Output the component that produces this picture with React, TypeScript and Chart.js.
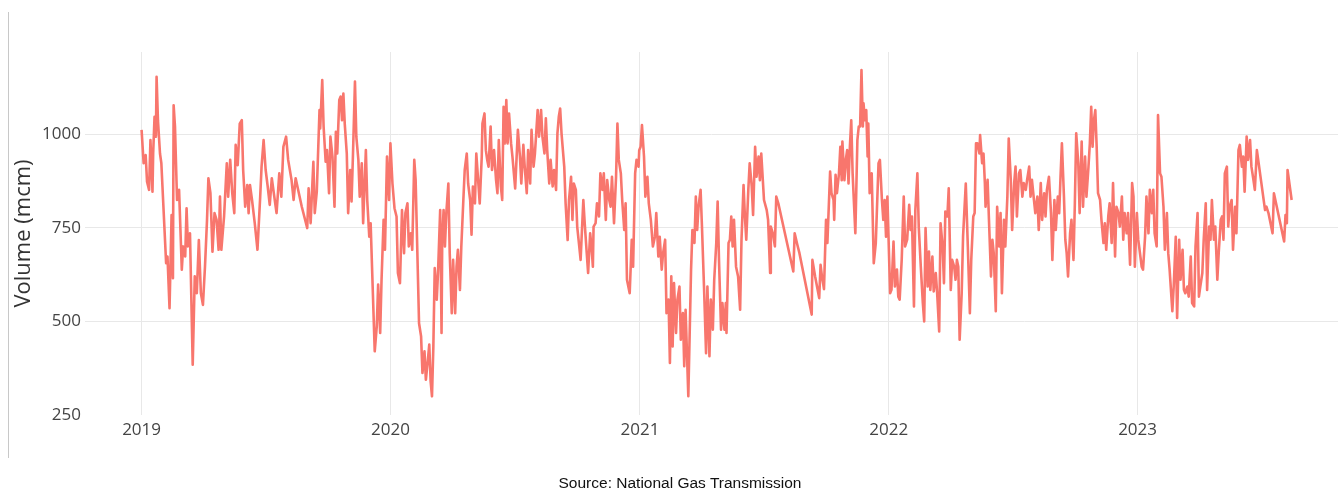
import React, { useEffect, useRef } from "react";
import { Chart, registerables } from "chart.js";

Chart.register(...registerables);

// Days since 2019-01-01
const days: number[] = [
  0, 3, 6, 8, 11, 13, 16, 17, 19, 21, 22, 24, 27, 29, 36, 38, 41, 44, 46, 47, 49, 52, 55, 59, 61, 64, 66, 68, 71, 75,
  78, 81, 84, 87, 90, 93, 96, 98, 101, 104, 107, 110, 113, 115, 117, 121, 125, 127, 130, 133, 136, 138, 141, 144, 147,
  149, 152, 155, 157, 159, 162, 166, 170, 174, 176, 179, 182, 185, 188, 191, 194, 198, 202, 205, 208, 212, 215,
  220, 223, 226, 235, 243, 245, 248, 250, 252, 254, 257, 261, 262, 265, 267, 270, 272, 275, 277, 280, 283, 285, 287,
  290, 292, 294, 296, 298, 301, 303, 306, 308, 310, 313, 315, 318, 320, 323, 325, 329, 331, 334, 336, 342, 345, 347,
  350, 352, 355, 357, 360, 363, 365, 368, 371, 374, 376, 379, 382, 385, 387, 390, 392, 395, 397, 400, 402, 407, 410,
  412, 415, 417, 420, 422, 424, 426, 428, 430, 433, 435, 438, 440, 441, 443, 445, 447, 450, 452, 455, 457, 460, 462, 464,
  467, 469, 472, 474, 477, 479, 482, 484, 486, 489, 491, 494, 496, 499, 500, 503, 505, 507, 509, 512, 514, 517, 520,
  522, 524, 527, 529, 531, 533, 535, 537, 539, 542, 544, 548, 552, 555, 557, 560, 562, 565, 567, 570, 572, 575, 577,
  581, 583, 586, 588, 591, 593, 595, 598, 600, 603, 605, 608, 610, 612, 614, 616, 620, 622, 625, 627, 630, 632, 634,
  637, 639, 642, 644, 648, 650, 653, 655, 658, 660, 662, 663, 666, 668, 671, 673, 676, 678, 681, 683, 686, 688, 690,
  693, 696, 698, 700, 703, 705, 708, 710, 712,
  716, 719, 721, 724, 726, 729, 730, 732, 734, 737, 739, 742, 744, 747, 750, 753, 755, 758, 760, 763, 765, 768, 770,
  773, 775, 777, 779, 781, 784, 786, 789, 791, 794, 796, 798, 802, 806, 808, 811, 813, 815, 817, 820, 822, 825, 828,
  830, 833, 835, 838, 840, 843, 845, 847, 850, 852, 855, 857, 858, 861, 863, 865, 867, 869, 872, 875, 878, 880, 883,
  885, 887, 890, 892, 895, 897, 900, 902, 905, 907, 909, 911, 913, 917, 919, 922, 923, 926, 929, 931, 934, 956, 958,
  962, 965,
  983, 984, 988, 994, 996, 998, 1001, 1004, 1006, 1010, 1012, 1015, 1016, 1018, 1020, 1023, 1025, 1027, 1028, 1031,
  1033, 1035, 1037, 1039, 1041, 1043, 1047, 1050, 1052, 1054, 1056, 1058, 1059, 1061, 1063, 1065, 1066, 1068, 1071,
  1074, 1077, 1081, 1083, 1086, 1088, 1090, 1092, 1094, 1098, 1100, 1103, 1105, 1108, 1110, 1112, 1115, 1118, 1120,
  1123, 1126, 1128, 1130, 1133, 1135, 1138, 1140, 1143, 1146, 1148, 1150, 1153, 1155, 1157, 1160, 1162, 1165, 1167,
  1170, 1172, 1175, 1177, 1179, 1182, 1184, 1187, 1189, 1192, 1194, 1196, 1198, 1200, 1203, 1205, 1209, 1212,
  1215, 1217, 1220, 1222, 1224, 1226, 1229, 1230, 1233, 1235, 1237, 1238, 1241, 1243, 1246, 1248, 1250, 1253, 1255,
  1258, 1260, 1262, 1265, 1267, 1270, 1272, 1275, 1277, 1280, 1282, 1284, 1287, 1289, 1292, 1294, 1297, 1299, 1302,
  1304, 1306, 1309, 1311, 1314, 1316, 1319, 1321, 1324, 1326, 1328, 1331, 1334, 1336, 1339, 1341, 1344, 1346, 1348,
  1350, 1353, 1355, 1357, 1359, 1362, 1364, 1367, 1369, 1371, 1374, 1376, 1379, 1381, 1384, 1386, 1389, 1391, 1393,
  1395, 1397, 1399, 1401, 1403, 1406, 1408, 1411, 1413, 1415, 1418, 1420, 1423, 1425, 1428, 1430, 1433, 1435, 1438,
  1440, 1442, 1445, 1447, 1450, 1453, 1455, 1457, 1460, 1462,
  1467, 1469, 1472, 1474, 1477, 1479, 1482, 1484, 1486, 1489, 1491, 1494, 1496, 1499, 1501, 1504, 1506, 1508, 1512,
  1514, 1517, 1519, 1522, 1524, 1527, 1529, 1531, 1534, 1536, 1539, 1541, 1544, 1546, 1549, 1551, 1553, 1556, 1558,
  1561, 1563, 1566, 1568, 1570, 1573, 1575, 1578, 1580, 1583, 1585, 1587, 1589, 1592, 1594, 1596, 1599, 1601, 1604,
  1606, 1609, 1611, 1614, 1616, 1618, 1621, 1623, 1626, 1628, 1631, 1633, 1636, 1648, 1650, 1653, 1659, 1661, 1676,
  1678, 1680, 1681, 1687,
];

// Volume (mcm)
const volume: number[] = [
  1011, 922, 944, 873, 851, 984, 846, 948, 1046, 993, 1153, 1037, 948, 922, 655, 673, 535, 784, 615, 1077, 1020, 824,
  851, 638, 700, 673, 802, 700, 735, 384, 620, 575, 717, 575, 544, 646, 771, 882, 842, 686, 789, 771, 691, 833, 691,
  780, 922, 833, 931, 842, 789, 971, 917, 1028, 1037, 904, 806, 864, 789, 864, 824, 762, 691, 833, 913, 984, 904, 860,
  811, 882, 842, 789, 895, 833, 966, 993, 931,
  877, 824, 882, 806, 749, 855, 762, 846, 926, 789, 846, 1064, 1015, 1144, 1020, 926, 957, 842, 993, 940, 806, 1006,
  948, 1091, 1100, 1037, 1108, 1028, 948, 789, 904, 820, 940, 1140, 993, 931, 833, 922, 762, 957, 824, 726, 762, 420,
  487, 598, 469, 611, 771, 691, 940, 824, 975, 868, 802, 780, 629, 602, 797, 682, 789, 815, 700, 735, 691, 931, 877,
  495, 460, 362, 420, 344, 398, 438, 340, 300, 433, 642, 558, 638, 797, 469, 718, 797, 700, 789, 868, 682, 522, 664,
  522, 646, 691,
  584, 700, 824, 904, 948, 868, 824, 731, 860, 815, 948, 868, 815, 940, 1028, 1055, 957, 931, 913, 1020, 904, 957, 877,
  842, 984, 860, 824, 1073, 975, 1091, 975, 1055, 975, 940, 855, 1011, 940, 868, 971, 913, 842, 957, 868, 1011, 913,
  948, 1064, 993, 1064, 993, 948, 1042, 957, 868, 931, 860, 904, 851, 1002, 1046, 1068, 1002, 913, 815, 717, 824, 886,
  771, 868, 851, 753, 700, 664, 824, 762, 682, 629, 735, 700, 646, 753, 762, 815, 780, 895, 851, 895, 771, 877, 824,
  806, 886, 762, 886, 1028, 931, 895, 824, 744, 815, 611,
  575, 718, 646, 895, 931, 913, 957, 966, 1024, 940, 833, 886, 815, 771, 700, 726, 789, 673, 726, 638, 682, 718, 522,
  558, 389, 620, 433, 602, 469, 558, 593, 451, 522, 380, 531, 300, 637, 744, 709, 833, 744, 806, 851, 753, 593, 415,
  593, 407, 558, 478, 611, 709, 820, 664, 478, 549, 478, 549, 469, 709, 718, 780, 700, 771, 646, 620, 531, 718, 864,
  780, 718, 851, 922, 860, 784, 966, 886, 940, 877, 948, 886, 824, 797, 771, 629, 753, 735, 700, 833, 815, 633, 735,
  704, 682,
  518, 664, 620, 562, 651, 620, 586, 771, 709, 900, 842, 824, 771, 891, 842, 895, 966, 877, 980, 877, 931, 957, 868,
  966, 1037, 895, 735, 984, 1020, 1020, 1171, 1020, 1082, 1037, 1064, 940, 1028, 842, 895, 655, 709, 922, 931, 824,
  771, 824, 726, 833, 575, 584, 713, 593, 638, 566, 558, 664, 833, 700, 718, 811, 744, 780, 540, 797, 895, 753, 646,
  549, 500, 749, 593, 686, 584, 673, 580, 629, 575, 473, 762, 700, 602, 793, 780, 855, 584, 664, 646, 611, 664, 646,
  451, 575, 726, 868, 700,
  522, 664, 780, 789, 975, 975, 948, 997, 922, 948, 869, 806, 878, 771, 620, 718, 682, 527, 806, 700, 789, 575, 771,
  700, 833, 988, 878, 744, 869, 913, 780, 895, 904, 833, 869, 851, 878, 913, 833, 878, 824, 789, 833, 744, 869, 771,
  842, 780, 851, 886, 789, 664, 824, 744, 833, 789, 886, 975, 833, 718, 682, 620, 735, 771, 664, 815, 1002, 922, 789,
  980, 806, 940, 833, 913, 975, 1073, 966, 1037, 1064, 966, 842, 824, 771, 709, 762, 691, 780, 815, 709, 869, 673, 806,
  789, 753, 833, 718, 789, 735, 789, 651, 869, 833, 646, 789, 718,
  646, 638, 726, 833, 735, 851, 789, 851, 735, 700, 1051, 895, 886, 806, 691, 789, 682, 638, 527, 593, 726, 509, 718,
  611, 691, 584, 575, 593, 566, 673, 549, 540, 700, 789, 566, 593, 629, 718, 815, 584, 753, 718, 824, 718, 753, 611,
  682, 771, 780, 718, 895, 913, 753, 806, 824, 691, 806, 735, 957, 971, 913, 940, 846, 993, 931, 984, 913, 877, 851,
  957, 797, 806, 789, 735, 842, 713, 784, 762, 904, 824,
];

const yearStarts: number[] = [0, 365, 731, 1096, 1461];
const yearLabels: string[] = ["2019", "2020", "2021", "2022", "2023"];
const yTicks: number[] = [250, 500, 750, 1000];

export default function App() {
  const canvasRef = useRef<HTMLCanvasElement | null>(null);

  useEffect(() => {
    if (!canvasRef.current) return;
    const chart = new Chart(canvasRef.current, {
      type: "line",
      data: {
        datasets: [
          {
            data: days.map((d, i) => ({ x: d, y: volume[i] })),
            borderColor: "#F8766D",
            borderWidth: 2.6,
            pointRadius: 0,
            tension: 0,
            borderJoinStyle: "round",
            fill: false,
          },
        ],
      },
      options: {
        animation: false,
        responsive: false,
        layout: { padding: { top: 52, left: 0, right: 0, bottom: 46 } },
        plugins: { legend: { display: false }, tooltip: { enabled: false } },
        scales: {
          x: {
            type: "linear",
            min: -83,
            max: 1755,
            afterBuildTicks: (scale: any) => {
              scale.ticks = yearStarts.map((v) => ({ value: v }));
            },
            afterFit: (scale: any) => {
              scale.height = 30;
            },
            grid: { color: "#e8e8e8", lineWidth: 1, drawTicks: false },
            border: { display: false },
            ticks: {
              autoSkip: false,
              maxRotation: 0,
              padding: 5,
              color: "#444",
              font: { family: "'Open Sans'", size: 17 },
              callback: (_v: any, i: number) => yearLabels[i],
            },
          },
          y: {
            type: "linear",
            min: 250,
            max: 1219,
            afterBuildTicks: (scale: any) => {
              scale.ticks = yTicks.map((v) => ({ value: v }));
            },
            afterFit: (scale: any) => {
              scale.width = 85;
            },
            grid: {
              color: (ctx: any) => (ctx.tick && ctx.tick.value === 250 ? "rgba(0,0,0,0)" : "#e8e8e8"),
              lineWidth: 1,
              drawTicks: false,
            },
            border: { display: false },
            title: {
              display: true,
              text: "Volume (mcm)",
              color: "#333",
              font: { family: "'Open Sans'", size: 22 },
              padding: { top: 11, bottom: 0 },
            },
            ticks: {
              padding: 4,
              color: "#444",
              font: { family: "'Open Sans'", size: 17 },
              callback: (v: any) => String(v),
            },
          },
        },
      },
    });
    return () => chart.destroy();
  }, []);

  return (
    <div style={{ position: "fixed", left: 0, top: 0, width: 1338, height: 491, background: "#fff", overflow: "hidden" }}>
      <div style={{ position: "absolute", left: 8, top: 12, width: 0, height: 446, borderLeft: "1px solid #c8c8c8" }} />
      <canvas ref={canvasRef} width={1338} height={491} style={{ position: "absolute", left: 0, top: 0, width: 1338, height: 491 }} />
      <div
        style={{
          position: "absolute",
          left: 0,
          width: 1360,
          top: 475,
          textAlign: "center",
          fontFamily: "'Liberation Sans', Arial, sans-serif",
          fontSize: 15.5,
          lineHeight: "16px",
          color: "#111",
        }}
      >
        Source: National Gas Transmission
      </div>
    </div>
  );
}
